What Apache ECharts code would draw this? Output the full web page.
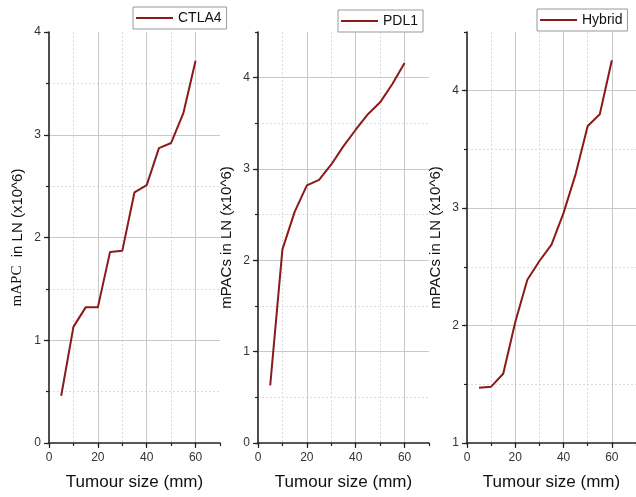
<!DOCTYPE html>
<html>
<head>
<meta charset="utf-8">
<script src="https://cdn.jsdelivr.net/npm/echarts@6/dist/echarts.min.js"></script>
<style>
  html, body { margin: 0; padding: 0; background: #fff; }
  #chart { width: 636px; height: 497px; }
</style>
</head>
<body>
<div id="chart"></div>
<script>
// Tumour size (mm) at which each cohort was sampled
const tumourSize = [5, 10, 15, 20, 25, 30, 35, 40, 45, 50, 55, 60];

// Cells in lymph node (x10^6) for each treatment
const ctla4 = [0.46, 1.13, 1.32, 1.32, 1.86, 1.87, 2.44, 2.51, 2.87, 2.92, 3.21, 3.72];
const pdl1 = [0.63, 2.12, 2.53, 2.82, 2.88, 3.05, 3.25, 3.43, 3.60, 3.73, 3.93, 4.16];
const hybrid = [1.47, 1.48, 1.59, 2.03, 2.39, 2.55, 2.69, 2.96, 3.29, 3.70, 3.80, 4.26];

const seriesNames = ['CTLA4', 'PDL1', 'Hybrid'];
const yTitles = ['{s|mAPC}  in LN (x10^6)', 'mPACs in LN (x10^6)', 'mPACs in LN (x10^6)'];
const yRanges = [[0, 4], [0, 4.5], [1, 4.5]];
const xRange = [0, 70];

const values = [ctla4, pdl1, hybrid];
const lineColor = '#8b1a1a';
const font = 'Liberation Sans, Arial, sans-serif';

const panelLeft = [49, 258, 467];
const panelTop = 32;
const panelW = 171;
const panelH = 411;
const legendBox = [[133, 7], [338, 10], [537, 9]];

const grids = [], xAxes = [], yAxes = [], series = [], legends = [];

for (let i = 0; i < 3; i++) {
  grids.push({ left: panelLeft[i], top: panelTop, width: panelW, height: panelH, containLabel: false });

  // major x axis: labels, long ticks, solid grid
  xAxes.push({
    type: 'value', gridIndex: i, position: 'bottom', offset: 0,
    min: xRange[0], max: xRange[1], interval: 20, z: 3,
    name: 'Tumour size (mm)', nameLocation: 'middle', nameGap: 31,
    nameTextStyle: { fontFamily: font, fontSize: 17, color: '#111' },
    axisLine: { show: true, onZero: false, lineStyle: { color: '#222', width: 1.6 } },
    axisTick: { show: true, inside: false, length: 5, lineStyle: { color: '#222', width: 1.2 } },
    axisLabel: { show: true, margin: 9, fontFamily: font, fontSize: 12, color: '#333', showMaxLabel: false },
    splitLine: { show: true, showMinLine: false, showMaxLine: false, lineStyle: { color: '#c8c8c8', width: 1 } }
  });
  // minor x axis: short ticks, dashed grid
  xAxes.push({
    type: 'value', gridIndex: i, position: 'bottom', offset: 0,
    min: xRange[0], max: xRange[1], interval: 10, z: 1,
    axisLine: { show: false, onZero: false },
    axisTick: { show: true, inside: false, length: 3, lineStyle: { color: '#222', width: 1.2 } },
    axisLabel: { show: false },
    splitLine: { show: true, showMinLine: false, showMaxLine: false, lineStyle: { color: '#dcdcdc', width: 1, type: [2, 2] } }
  });

  const yr = yRanges[i];
  yAxes.push({
    type: 'value', gridIndex: i, position: 'left', offset: 0,
    min: yr[0], max: yr[1], interval: 1, z: 3,
    name: yTitles[i], nameLocation: 'middle', nameGap: 24, nameRotate: 90,
    nameTextStyle: {
      fontFamily: font, fontSize: 15, color: '#111',
      rich: { s: { fontFamily: 'Liberation Serif, Times New Roman, serif', fontSize: 15, color: '#111' } }
    },
    axisLine: { show: true, onZero: false, lineStyle: { color: '#222', width: 1.6 } },
    axisTick: { show: true, inside: false, length: 5, lineStyle: { color: '#222', width: 1.2 } },
    axisLabel: { show: true, margin: 8, fontFamily: font, fontSize: 12, color: '#333', showMaxLabel: yr[1] % 1 === 0 },
    splitLine: { show: true, showMinLine: false, showMaxLine: false, lineStyle: { color: '#c8c8c8', width: 1 } }
  });
  yAxes.push({
    type: 'value', gridIndex: i, position: 'left', offset: 0,
    min: yr[0], max: yr[1], interval: 0.5, z: 1,
    axisLine: { show: false, onZero: false },
    axisTick: { show: true, inside: false, length: 3, lineStyle: { color: '#222', width: 1.2 } },
    axisLabel: { show: false },
    splitLine: { show: true, showMinLine: false, showMaxLine: false, lineStyle: { color: '#dcdcdc', width: 1, type: [2, 2] } }
  });

  series.push({
    name: seriesNames[i], type: 'line', xAxisIndex: 2 * i, yAxisIndex: 2 * i,
    data: tumourSize.map((x, k) => [x, values[i][k]]),
    showSymbol: false, symbol: 'none', smooth: false, z: 5,
    lineStyle: { color: lineColor, width: 2 }, itemStyle: { color: lineColor }
  });

  legends.push({
    data: [seriesNames[i]], left: legendBox[i][0], top: legendBox[i][1],
    orient: 'horizontal', icon: 'rect', itemWidth: 37, itemHeight: 2,
    padding: [4, 5, 4, 3], borderColor: '#999', borderWidth: 1, backgroundColor: '#fff',
    textStyle: { fontFamily: font, fontSize: 14, color: '#111' }, selectedMode: false
  });
}

const chart = echarts.init(document.getElementById('chart'), null, { renderer: 'canvas' });
chart.setOption({
  animation: false,
  backgroundColor: '#fff',
  grid: grids,
  xAxis: xAxes,
  yAxis: yAxes,
  legend: legends,
  series: series
});
</script>
</body>
</html>
